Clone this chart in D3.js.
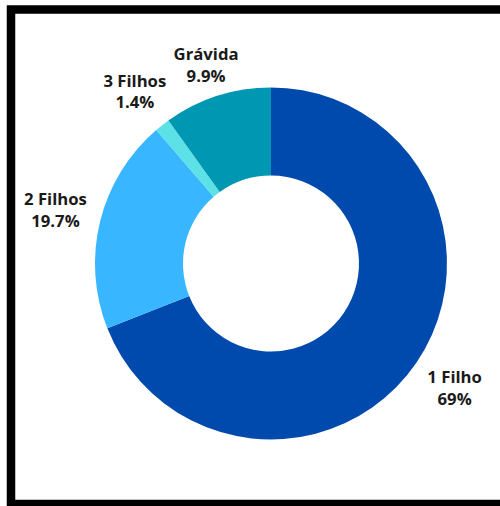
<!DOCTYPE html>
<html>
<head>
<meta charset="utf-8">
<script src="https://cdn.jsdelivr.net/npm/d3@7"></script>
<style>
  html, body { margin: 0; padding: 0; background: #ffffff; }
  svg { display: block; }
</style>
</head>
<body>
<svg id="chart" width="500" height="506"></svg>
<script>
// Distribuição por número de filhos
const categories = ["1 Filho", "2 Filhos", "3 Filhos", "Grávida"];
const values = [69, 19.7, 1.4, 9.9];
const valueLabels = ["69%", "19.7%", "1.4%", "9.9%"];
const colors = ["#004aad", "#38b6ff", "#5ce1e6", "#0097b2"];

const data = categories.map((c, i) => ({ name: c, value: values[i], label: valueLabels[i], color: colors[i] }));

const svg = d3.select("#chart");

// Moldura preta
svg.append("rect")
  .attr("x", 11).attr("y", 9.5)
  .attr("width", 520).attr("height", 494.5)
  .attr("fill", "#ffffff")
  .attr("stroke", "#000000")
  .attr("stroke-width", 8.5);

const cx = 271, cy = 263.5;
const outerR = 176, innerR = 88, labelR = 222;

const pie = d3.pie().value(d => d.value).sort(null);
const arcs = pie(data);

const arc = d3.arc().innerRadius(innerR).outerRadius(outerR);
const labelArc = d3.arc().innerRadius(labelR).outerRadius(labelR);

const g = svg.append("g").attr("transform", `translate(${cx},${cy})`);

g.selectAll("path.slice")
  .data(arcs)
  .join("path")
  .attr("class", "slice")
  .attr("d", arc)
  .attr("fill", d => d.data.color);

// Pequenos ajustes para evitar sobreposição dos rótulos do topo
const nudge = { "3 Filhos": [1, 3], "Grávida": [3, 13] };

const labels = g.selectAll("text.lbl")
  .data(arcs)
  .join("text")
  .attr("class", "lbl")
  .attr("text-anchor", "middle")
  .attr("font-family", "'Open Sans', sans-serif")
  .attr("font-weight", 700)
  .attr("font-size", 16.7)
  .attr("fill", "#1a1a1a")
  .attr("transform", d => {
    const [x, y] = labelArc.centroid(d);
    const n = nudge[d.data.name] || [0, 0];
    return `translate(${x + n[0]},${y + n[1] - 5})`;
  });

labels.append("tspan").attr("x", 0).attr("y", 0).text(d => d.data.name);
labels.append("tspan").attr("x", 0).attr("y", 21.5).text(d => d.data.label);
</script>
</body>
</html>
